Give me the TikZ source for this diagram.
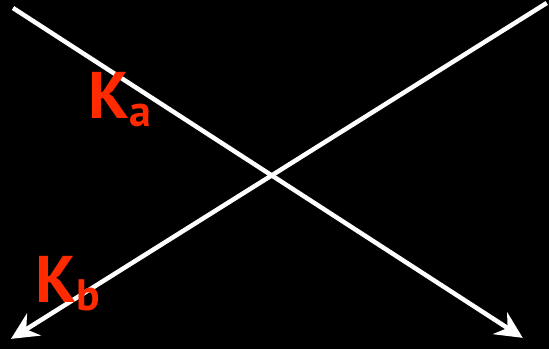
\documentclass[tikz,border=0pt]{standalone}
\usepackage{xcolor}
\usepackage{fontspec}
\setsansfont{PT Sans}
\usepackage{tikz}
\usetikzlibrary{arrows.meta,positioning}
\definecolor{kred}{HTML}{FF2A00}

\begin{document}
\begin{tikzpicture}[x=1pt,y=-1pt,line/.style={draw=white,line width=4.5pt,-{Stealth[length=27pt,width=26pt,inset=9pt]}},klabel/.style={text=kred,inner sep=0pt,anchor=base west,font=\fontsize{66}{70}\selectfont\bfseries\sffamily}]
  % Background
  \fill[black] (0,0) rectangle (549,349);

  % Line ends
  \coordinate (a0) at (13,8);
  \coordinate (a1) at (523,338);
  \coordinate (b0) at (547,3);
  \coordinate (b1) at (11,339);

  % Lines
  \draw[line] (a0) -- (a1);
  \draw[line] (b0) -- (b1);

  % Labels
  \node[klabel] (ka) at (88,119) {K\raisebox{-8pt}{\fontsize{44}{50}\selectfont a}};
  \node[klabel] (kb) at (35,303) {K\raisebox{-8pt}{\fontsize{44}{50}\selectfont b}};
\end{tikzpicture}
\end{document}
